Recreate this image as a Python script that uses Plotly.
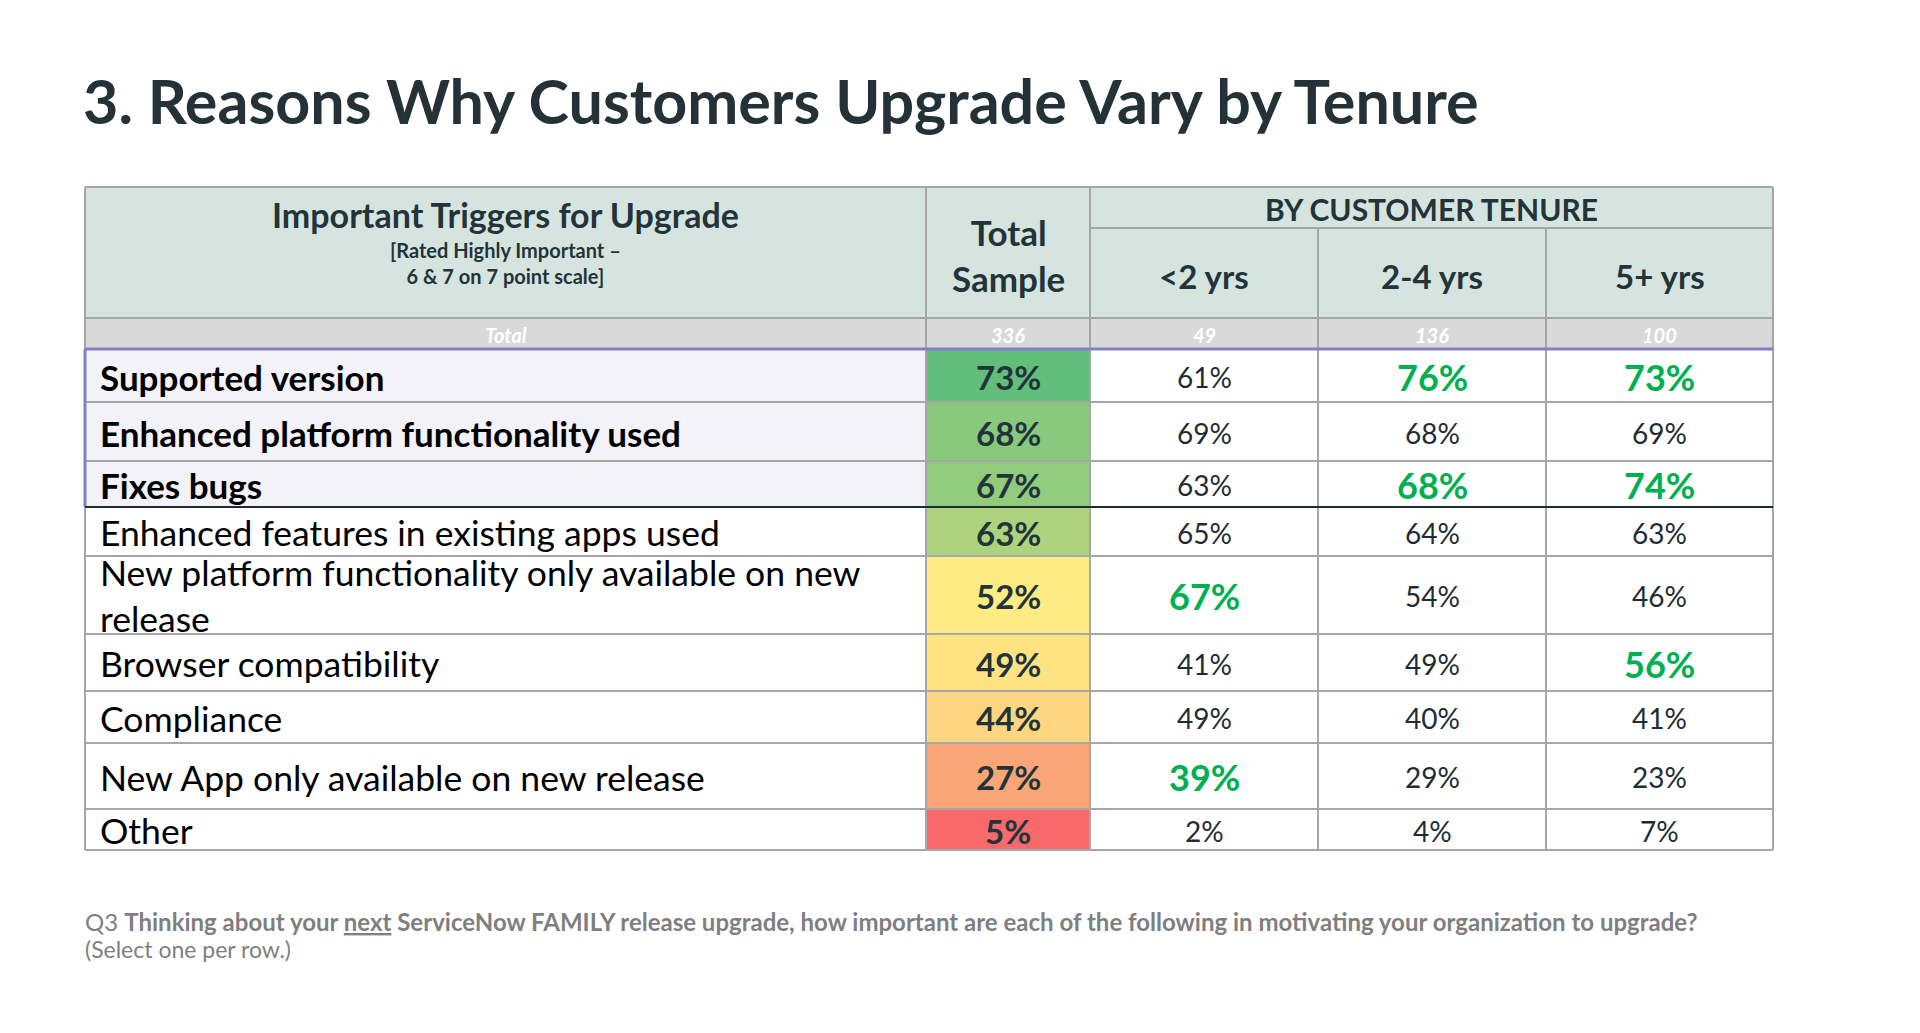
import numpy as np
import plotly.graph_objects as go

# ---------------- data ----------------
title = "3. Reasons Why Customers Upgrade Vary by Tenure"
stub_head = "Important Triggers for Upgrade"
stub_sub = ["[Rated Highly Important \u2013", "6 & 7 on 7 point scale]"]
total_head = ["Total", "Sample"]
group_head = "BY CUSTOMER TENURE"
tenure_heads = ["<2 yrs", "2-4 yrs", "5+ yrs"]
base_label = "Total"
base_sizes = ["336", "49", "136", "100"]

categories = [
    "Supported version",
    "Enhanced platform functionality used",
    "Fixes bugs",
    "Enhanced features in existing apps used",
    "New platform functionality only available on new<br>release",
    "Browser compatibility",
    "Compliance",
    "New App only available on new release",
    "Other",
]
total_sample = [73, 68, 67, 63, 52, 49, 44, 27, 5]
tenure_lt2 = [61, 69, 63, 65, 67, 41, 49, 39, 2]
tenure_2_4 = [76, 68, 68, 64, 54, 49, 40, 29, 4]
tenure_5p = [73, 69, 74, 63, 46, 56, 41, 23, 7]
# significantly higher (highlighted) cells
sig_lt2 = [False, False, False, False, True, False, False, True, False]
sig_2_4 = [True, False, True, False, False, False, False, False, False]
sig_5p = [True, False, True, False, False, True, False, False, False]

foot_q = "Q3"
foot_bold_a = "Thinking about your "
foot_underline = "next"
foot_bold_b = " ServiceNow FAMILY release upgrade, how important are each of the following in motivating your organization to upgrade?"
foot_line2 = "(Select one per row.)"

# ---------------- layout constants ----------------
W, H = 1920, 1033
COL_EDGES = [85, 926, 1090, 1318, 1546, 1773]
HEAD_TOP, GROUP_BOTTOM, HEAD_BOTTOM, BASE_BOTTOM = 187, 228, 318, 349
ROW_HEIGHTS = [53, 59, 46, 49, 78, 57, 52, 66, 41]
N_BOLD = 3
LABEL_X = 98

FONT = "Lato"
DARK = "#22343A"
GREEN = "#00B050"
GRID = "#A6A6A6"
HEAD_BG = "#D6E4DF"
BASE_BG = "#D9D9D9"
BOLD_BG = "#F2F2F8"
PURPLE = "#8080C4"

row_edges = list(np.concatenate([[BASE_BOTTOM], BASE_BOTTOM + np.cumsum(ROW_HEIGHTS)]))
row_centers = [(row_edges[i] + row_edges[i + 1]) / 2 for i in range(len(categories))]
col_centers = [(COL_EDGES[i] + COL_EDGES[i + 1]) / 2 for i in range(len(COL_EDGES) - 1)]
L, R, BOT = COL_EDGES[0], COL_EDGES[-1], row_edges[-1]

fig = go.Figure()

# Total Sample column as a 3-colour scale heatmap (Excel style red-yellow-green)
zmin, zmax, zmid = min(total_sample), max(total_sample), float(np.median(total_sample))
midpos = (zmid - zmin) / (zmax - zmin)
fig.add_trace(go.Heatmap(
    x=[COL_EDGES[1], COL_EDGES[2]],
    y=row_edges,
    z=[[v] for v in total_sample],
    zmin=zmin, zmax=zmax,
    colorscale=[[0, "#F8696B"], [midpos, "#FFEB84"], [1, "#63BE7B"]],
    showscale=False, hoverinfo="skip",
))

shapes = []
def rect(x0, y0, x1, y1, color):
    shapes.append(dict(type="rect", xref="x", yref="y", x0=x0, y0=y0, x1=x1, y1=y1,
                       fillcolor=color, line=dict(width=0), layer="below"))

def line(x0, y0, x1, y1, color=GRID, width=2):
    shapes.append(dict(type="line", xref="x", yref="y", x0=x0, y0=y0, x1=x1, y1=y1,
                       line=dict(color=color, width=width), layer="above"))

rect(L, HEAD_TOP, R, HEAD_BOTTOM, HEAD_BG)
rect(L, HEAD_BOTTOM, R, BASE_BOTTOM, BASE_BG)
rect(L, row_edges[0], COL_EDGES[1], row_edges[N_BOLD], BOLD_BG)

# grid lines
line(L, HEAD_TOP, R, HEAD_TOP)
line(COL_EDGES[2], GROUP_BOTTOM, R, GROUP_BOTTOM)
line(L, HEAD_BOTTOM, R, HEAD_BOTTOM)
for y in row_edges[1:]:
    line(L, y, R, y)
for x in (L, COL_EDGES[1], COL_EDGES[2], R):
    line(x, HEAD_TOP, x, BOT)
for x in COL_EDGES[3:5]:
    line(x, GROUP_BOTTOM, x, BOT)
# highlighted top block
line(L, row_edges[0], R, row_edges[0], PURPLE, 3)
line(L, row_edges[0], L, row_edges[N_BOLD], PURPLE, 3)
line(L, row_edges[N_BOLD], R, row_edges[N_BOLD], "#1F2D33", 2)

ann = []
def text(x, y, s, size, color=DARK, bold=False, italic=False, xanchor="center", family=FONT):
    ann.append(dict(x=x, y=y, xref="x", yref="y", text=s, showarrow=False,
                    xanchor=xanchor, yanchor="middle", align="left" if xanchor == "left" else "center",
                    font=dict(family=family, size=size, color=color,
                              weight=700 if bold else 400,
                              style="italic" if italic else "normal")))

# title
text(81, 100, title, 61, "#243238", bold=True, xanchor="left")

# header
text(col_centers[0], 214, stub_head, 34, bold=True)
text(col_centers[0], 263, "<br>".join(stub_sub), 20, bold=True)
text(col_centers[1], 255, "<br>".join(total_head), 35, bold=True)
text((COL_EDGES[2] + R) / 2, 209, group_head, 30, bold=True)
for i, h in enumerate(tenure_heads):
    text(col_centers[2 + i], 276, h, 33, bold=True)

# base row
base_y = (HEAD_BOTTOM + BASE_BOTTOM) / 2 + 1
text(col_centers[0], base_y, base_label, 20, "#FFFFFF", bold=True, italic=True)
for i, s in enumerate(base_sizes):
    text(col_centers[1 + i], base_y, s, 20, "#FFFFFF", bold=True, italic=True)

# rows
for r, cat in enumerate(categories):
    cy = row_centers[r] + 1
    bold = r < N_BOLD
    multi = "<br>" in cat
    text(LABEL_X, cy - (1 if multi else 0), cat, 35 if bold else 35.5, "#000000",
         bold=bold, xanchor="left")
    text(col_centers[1], cy, f"{total_sample[r]}%", 33, bold=True)
    for c, (vals, sig) in enumerate(((tenure_lt2, sig_lt2), (tenure_2_4, sig_2_4), (tenure_5p, sig_5p))):
        if sig[r]:
            text(col_centers[2 + c], cy, f"{vals[r]}%", 36, GREEN, bold=True)
        else:
            text(col_centers[2 + c], cy, f"{vals[r]}%", 28, "#1F2D33")

# footnote
foot = f"{foot_q} <b>{foot_bold_a}<u>{foot_underline}</u>{foot_bold_b}</b>"
text(83, 921, foot, 24, "#7F7F7F", xanchor="left")
text(83, 949, foot_line2, 23, "#7F7F7F", xanchor="left")

fig.update_layout(
    width=W, height=H,
    margin=dict(l=0, r=0, t=0, b=0),
    paper_bgcolor="#FFFFFF", plot_bgcolor="#FFFFFF",
    xaxis=dict(range=[0, W], visible=False, fixedrange=True),
    yaxis=dict(range=[H, 0], visible=False, fixedrange=True),
    shapes=shapes, annotations=ann, showlegend=False,
)

fig.write_html("out.html", config={"displayModeBar": False},
               post_script="document.body.style.margin='0';document.body.style.overflow='hidden';")
